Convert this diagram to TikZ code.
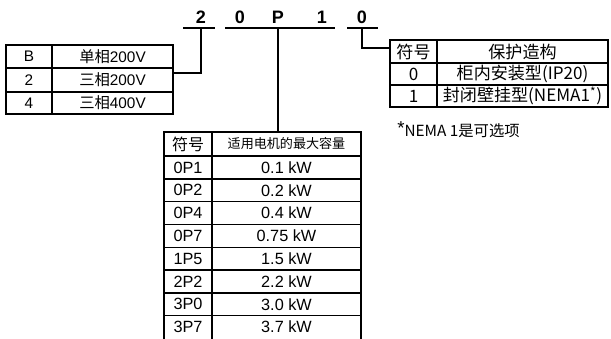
\documentclass[tikz,border=0pt]{standalone}
\usepackage{fontspec}
\setmainfont{Liberation Sans}
\newfontfamily\cjk{Noto Sans CJK SC}
\usepackage{tikz}
\usetikzlibrary{positioning}

\tikzset{
  digit/.style={font=\fontsize{13.5}{14}\selectfont\bfseries, inner sep=0.75pt},
  tab/.style={line width=1.05pt},
  link/.style={line width=0.9pt},
  vtxt/.style={font=\fontsize{11.5}{12}\selectfont, inner sep=0.75pt},
  ptxt/.style={font=\cjk\fontsize{12.8}{13}\selectfont, inner sep=0.75pt},
  ktxt/.style={font=\fontsize{12.2}{12}\selectfont, inner sep=0.75pt},
}

\begin{document}
\begin{tikzpicture}[x=0.75pt,y=0.75pt,yscale=-1,xscale=1]
\useasboundingbox (0,0) rectangle (611,339);

% Code letters
\node[digit] (d1) at (201,17) {2};
\node[digit] (d2) at (240,17) {0};
\node[digit] (d3) at (278,17) {P};
\node[digit] (d4) at (322,17) {1};
\node[digit] (d5) at (362,17) {0};
%Straight Lines: underlines
\draw[link] (183,28) -- (215,28) ;
\draw[link] (225,28) -- (335,28) ;
\draw[link] (347,28) -- (378,28) ;
\coordinate (u1) at (201,28);
\coordinate (u3) at (278,28);
\coordinate (u5) at (362,28);

%Shape: voltage table
\draw[tab] (6,45) rectangle (173,114) ;
\draw[tab] (6,68) -- (173,68) (6,92) -- (173,92) (52,45) -- (52,114) ;
\coordinate (vt) at (173,73);
% Text Node
\node[vtxt] (v1) at (29,56.5) {B};
\node[vtxt] (v1t) at (112.5,56.5) {{\cjk 单相}200V};
\node[vtxt] (v2) at (29,80) {2};
\node[vtxt] (v2t) at (112.5,80) {{\cjk 三相}200V};
\node[vtxt] (v3) at (29,103) {4};
\node[vtxt] (v3t) at (112.5,103) {{\cjk 三相}400V};

%Shape: protection table
\draw[tab] (390,40) rectangle (608,107) ;
\draw[tab] (390,63) -- (608,63) (390,85) -- (608,85) (437,40) -- (437,107) ;
\coordinate (pt) at (390,48);
% Text Node
\node[ptxt] (p0) at (413.5,52) {符号};
\node[ptxt] (p0t) at (522.5,52) {保护造构};
\node[ptxt] (p1) at (413.5,74) {0};
\node[ptxt] (p1t) at (522.5,74) {柜内安装型(IP20)};
\node[ptxt] (p2) at (413.5,96) {1};
\node[ptxt] (p2t) at (522.5,96) {封闭壁挂型(NEMA1\textsuperscript{*})};
\node[ptxt, font=\cjk\fontsize{11.5}{12}\selectfont, anchor=west] (note) at (396,130) {\raisebox{1.5pt}{\rmfamily\fontsize{14}{14}\selectfont *}NEMA 1是可选项};

%Shape: capacity table
\draw[tab] (164,132) rectangle (361,342) ;
\draw[tab] (212,132) -- (212,342) ;
\draw[tab] (164,156) -- (361,156) (164,178.8) -- (361,178.8) (164,201.6) -- (361,201.6) (164,224.4) -- (361,224.4) ;
\draw[tab] (164,247.2) -- (361,247.2) (164,270) -- (361,270) (164,292.8) -- (361,292.8) (164,315.6) -- (361,315.6) ;
\coordinate (kt) at (278,132);
% Text Node
\node[ptxt, font=\cjk\fontsize{12}{12}\selectfont] (k0) at (188,144) {符号};
\node[ptxt, font=\cjk\fontsize{9.8}{10}\selectfont] (k0t) at (286.5,144) {适用电机的最大容量};
\node[ktxt] (k1) at (188,167.4) {0P1};
\node[ktxt] (k1t) at (286.5,167.4) {0.1 kW};
\node[ktxt] (k2) at (188,190.2) {0P2};
\node[ktxt] (k2t) at (286.5,190.2) {0.2 kW};
\node[ktxt] (k3) at (188,213) {0P4};
\node[ktxt] (k3t) at (286.5,213) {0.4 kW};
\node[ktxt] (k4) at (188,235.8) {0P7};
\node[ktxt] (k4t) at (286.5,235.8) {0.75 kW};
\node[ktxt] (k5) at (188,258.6) {1P5};
\node[ktxt] (k5t) at (286.5,258.6) {1.5 kW};
\node[ktxt] (k6) at (188,281.4) {2P2};
\node[ktxt] (k6t) at (286.5,281.4) {2.2 kW};
\node[ktxt] (k7) at (188,304.2) {3P0};
\node[ktxt] (k7t) at (286.5,304.2) {3.0 kW};
\node[ktxt] (k8) at (188,327) {3P7};
\node[ktxt] (k8t) at (286.5,327) {3.7 kW};

%Straight Lines: connectors
\draw[link] (u1) |- (vt) ;
\draw[link] (u3) -- (kt) ;
\draw[link] (u5) |- (pt) ;
\end{tikzpicture}
\end{document}
